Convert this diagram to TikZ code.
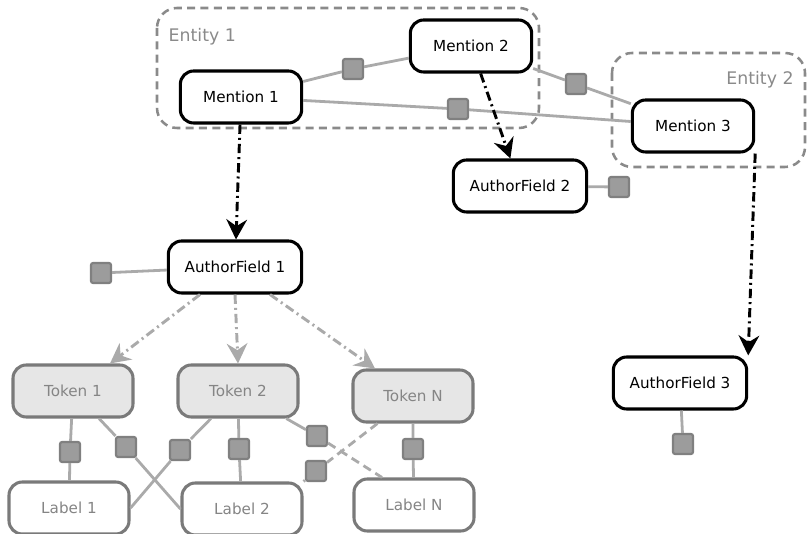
\documentclass[tikz,border=0pt]{standalone}
\usepackage{fontspec}
\setmainfont{DejaVu Sans}
\usepackage{tikz}
\usetikzlibrary{arrows.meta,calc}
\definecolor{edgegray}{HTML}{AAAAAA}
\definecolor{factorfill}{HTML}{9C9C9C}
\definecolor{factordraw}{HTML}{808080}
\definecolor{tokfill}{HTML}{E6E6E6}
\definecolor{tokdraw}{HTML}{7A7A7A}
\definecolor{toktext}{HTML}{858585}
\definecolor{entgray}{HTML}{8A8A8A}

\begin{document}
\begin{tikzpicture}[
  box/.style={draw, line width=2.3pt, rounded corners=10pt, font=\fontsize{11.4}{13}\selectfont, minimum width=91pt, minimum height=39pt, fill=white, inner sep=0pt},
  field/.style={box, minimum width=100pt},
  token/.style={box, draw=tokdraw, fill=tokfill, text=toktext, minimum width=90pt},
  labelbox/.style={token, fill=white},
  factor/.style={draw=factordraw, fill=factorfill, line width=1.6pt, minimum size=15pt, inner sep=0pt, rounded corners=1.5pt},
  link/.style={edgegray, line width=2.1pt},
  dlink/.style={link, dash pattern=on 6.5pt off 4pt},
  entity/.style={draw=entgray, line width=1.9pt, dash pattern=on 6pt off 4pt, rounded corners=15pt},
  entname/.style={text=entgray, font=\fontsize{13}{15}\selectfont},
  ref/.style={-{Stealth[length=15pt,width=15.5pt,inset=5pt]}, line width=2.2pt, dash pattern=on 7pt off 3pt on 1.5pt off 3pt},
  gref/.style={ref, edgegray},
  x=0.75pt, y=-0.75pt]
\useasboundingbox (0,0) rectangle (807,534);
% entities
\draw[entity] (157,8) rectangle (539,128);
\draw[entity] (612,53) rectangle (805,167);
\node[entname, anchor=west] (e1) at (164,37) {Entity 1};
\node[entname] (e2) at (760,80) {Entity 2};
% mentions and fields
\node[box] (m1) at (241,97) {Mention 1};
\node[box] (m2) at (471,46) {Mention 2};
\node[box] (m3) at (693,126) {Mention 3};
\node[field] (af1) at (235,267) {AuthorField 1};
\node[field] (af2) at (520,186) {AuthorField 2};
\node[field] (af3) at (680,383) {AuthorField 3};
% tokens and labels
\node[token] (t1) at (73,391) {Token 1};
\node[token] (t2) at (238,391) {Token 2};
\node[token] (tn) at (413,396) {Token N};
\node[labelbox] (l1) at (69,508) {Label 1};
\node[labelbox] (l2) at (242,509) {Label 2};
\node[labelbox] (ln) at (414,505) {Label N};
% factors
\node[factor] (f12) at (353,69) {};
\node[factor] (f13) at (458,109) {};
\node[factor] (f23) at (576,84) {};
\node[factor] (fa1) at (101,273) {};
\node[factor] (fa2) at (619,187) {};
\node[factor] (fa3) at (683,444) {};
\node[factor] (g11) at (70,452) {};
\node[factor] (g12) at (126,447) {};
\node[factor] (g21) at (180,450) {};
\node[factor] (g22) at (239,449) {};
\node[factor] (g2n) at (317,436) {};
\node[factor] (gn2) at (316,471) {};
\node[factor] (gnn) at (413,449) {};
% links
\draw[link] (m1) -- (f12) -- (m2);
\draw[link] (m1) -- (f13) -- (m3);
\draw[link] (m2) -- (f23) -- (m3);
\draw[link] (af1) -- (fa1);
\draw[link] (af2) -- (fa2);
\draw[link] (af3) -- (fa3);
\draw[link] (t1) -- (g11) -- (l1);
\draw[link] (t1) -- (g12) -- (l2.west);
\draw[link] (t2) -- (g21) -- (l1.east);
\draw[link] (t2) -- (g22) -- (l2);
\draw[link] (t2) -- (g2n);
\draw[dlink] (g2n) -- ($(ln.north)+(-32,0)$);
\draw[dlink] (tn) -- (gn2);
\draw[link] (gn2) -- (l2.north east);
\draw[link] (tn) -- (gnn) -- (ln);
% references
\draw[ref] (m1) -- (af1);
\draw[ref] (m2) -- (af2);
\draw[ref] (m3.south east) -- (af3.north east);
\draw[gref] ($(af1.south)+(-35,0)$) -- ($(t1.north)+(37,0)$);
\draw[gref] (af1.south) -- (t2.north);
\draw[gref] ($(af1.south)+(35,0)$) -- ($(tn.north)+(-38,0)$);
\end{tikzpicture}
\end{document}
